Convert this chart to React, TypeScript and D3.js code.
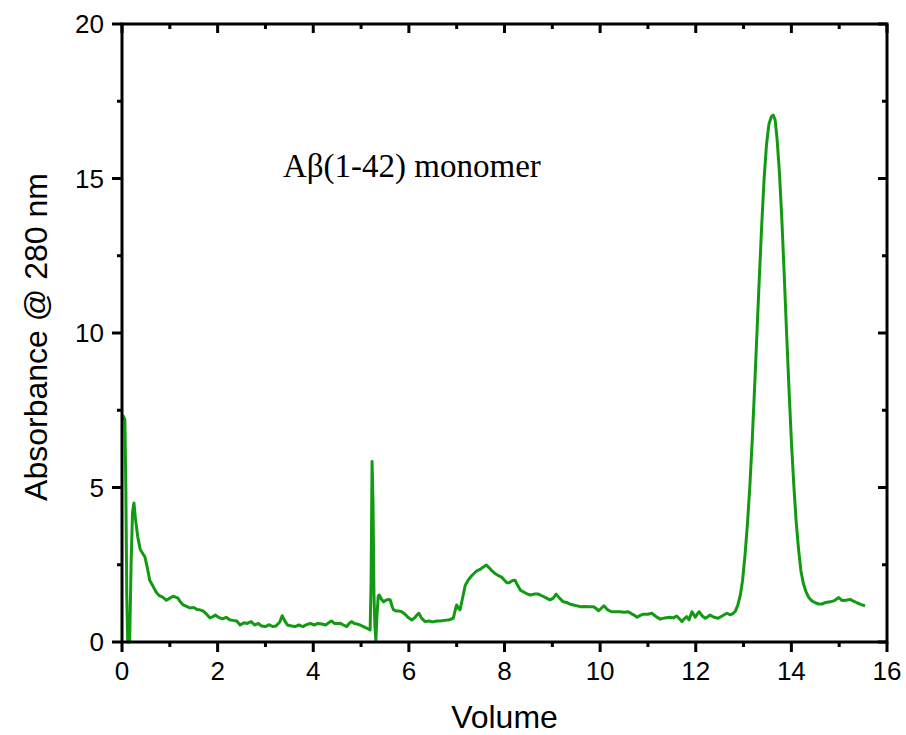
import React from "react";
import * as d3 from "d3";

const volume: number[] = [
  0.0, 0.03, 0.06, 0.08, 0.1, 0.12, 0.16, 0.19, 0.22, 0.25, 0.28, 0.33, 0.38, 0.44, 0.48, 0.53, 0.58, 0.65, 0.72, 0.78,
  0.85, 0.93, 1.0, 1.07, 1.12, 1.17, 1.22, 1.28, 1.35, 1.42, 1.5, 1.57, 1.63, 1.7, 1.77, 1.84, 1.9, 1.95, 2.02, 2.1,
  2.18, 2.25, 2.32, 2.4, 2.47, 2.55, 2.62, 2.7, 2.78, 2.85, 2.92, 3.0, 3.08, 3.15, 3.22, 3.3, 3.35, 3.4, 3.46, 3.55,
  3.62, 3.7, 3.78, 3.86, 3.94, 4.02, 4.1, 4.18, 4.26, 4.32, 4.38, 4.45, 4.52, 4.56, 4.63, 4.7, 4.75, 4.8, 4.86, 4.92,
  4.98, 5.05, 5.12, 5.19, 5.21, 5.23, 5.25, 5.27, 5.29, 5.31, 5.33, 5.36, 5.38, 5.42, 5.47, 5.52, 5.57, 5.61, 5.65, 5.68,
  5.74, 5.8, 5.85, 5.92, 5.98, 6.06, 6.12, 6.17, 6.21, 6.26, 6.34, 6.42, 6.5, 6.58, 6.65, 6.75, 6.85, 6.93, 6.98, 7.0,
  7.04, 7.07, 7.12, 7.18, 7.24, 7.3, 7.35, 7.42, 7.49, 7.55, 7.62, 7.68, 7.74, 7.8, 7.87, 7.94, 8.0, 8.05, 8.1, 8.16,
  8.22, 8.27, 8.33, 8.4, 8.47, 8.54, 8.62, 8.71, 8.8, 8.88, 8.95, 9.02, 9.08, 9.15, 9.23, 9.3, 9.38, 9.44, 9.52, 9.6,
  9.68, 9.76, 9.86, 9.92, 9.97, 10.03, 10.08, 10.15, 10.24, 10.33, 10.42, 10.5, 10.59, 10.65, 10.72, 10.77, 10.84, 10.91, 11.0, 11.08,
  11.17, 11.26, 11.35, 11.46, 11.53, 11.6, 11.66, 11.71, 11.76, 11.81, 11.86, 11.92, 11.96, 11.99, 12.03, 12.07, 12.13, 12.2, 12.25, 12.3,
  12.38, 12.47, 12.56, 12.65, 12.72, 12.78, 12.83, 12.88, 12.93, 12.98, 13.03, 13.08, 13.13, 13.18, 13.23, 13.28, 13.33, 13.38, 13.43, 13.48,
  13.53, 13.58, 13.62, 13.66, 13.7, 13.75, 13.8, 13.85, 13.9, 13.95, 14.0, 14.05, 14.1, 14.15, 14.2, 14.25, 14.3, 14.36, 14.43, 14.5,
  14.57, 14.64, 14.72, 14.81, 14.9, 14.99, 15.06, 15.14, 15.23, 15.3, 15.37, 15.45, 15.54,
];

const absorbance: number[] = [
  7.2, 7.3, 7.2, 5.0, 1.5, 0.0, 0.0, 2.5, 4.2, 4.5, 4.0, 3.4, 3.0, 2.85, 2.75, 2.4, 2.0, 1.8, 1.6, 1.5,
  1.45, 1.35, 1.42, 1.48, 1.45, 1.42, 1.3, 1.2, 1.15, 1.1, 1.12, 1.05, 1.04, 1.0, 0.9, 0.78, 0.82, 0.87, 0.8, 0.75,
  0.8, 0.72, 0.7, 0.68, 0.55, 0.62, 0.6, 0.66, 0.55, 0.6, 0.52, 0.5, 0.56, 0.5, 0.52, 0.65, 0.85, 0.7, 0.55, 0.52,
  0.5, 0.55, 0.5, 0.56, 0.6, 0.55, 0.6, 0.58, 0.55, 0.62, 0.68, 0.6, 0.6, 0.61, 0.55, 0.5, 0.6, 0.66, 0.6, 0.58,
  0.55, 0.5, 0.45, 0.39, 2.0, 5.84, 4.5, 1.5, 0.5, 0.06, 0.8, 1.5, 1.52, 1.4, 1.3, 1.35, 1.38, 1.36, 1.15, 1.04,
  1.0, 1.0, 0.98, 0.9, 0.8, 0.71, 0.78, 0.88, 0.93, 0.78, 0.66, 0.68, 0.65, 0.68, 0.68, 0.7, 0.72, 0.77, 1.1, 1.2,
  1.08, 1.04, 1.4, 1.84, 2.0, 2.12, 2.2, 2.3, 2.35, 2.42, 2.49, 2.4, 2.3, 2.22, 2.15, 2.1, 2.0, 1.92, 1.92, 1.98,
  2.0, 1.85, 1.68, 1.62, 1.56, 1.52, 1.55, 1.55, 1.48, 1.42, 1.36, 1.42, 1.55, 1.42, 1.3, 1.28, 1.22, 1.2, 1.17, 1.14,
  1.15, 1.14, 1.14, 1.08, 1.01, 1.1, 1.17, 1.05, 0.98, 0.98, 0.98, 0.96, 0.98, 0.92, 0.86, 0.8, 0.86, 0.9, 0.9, 0.93,
  0.82, 0.74, 0.78, 0.8, 0.78, 0.84, 0.75, 0.66, 0.75, 0.82, 0.72, 0.98, 0.88, 0.8, 0.9, 0.98, 0.85, 0.77, 0.82, 0.87,
  0.8, 0.77, 0.85, 0.93, 0.88, 0.92, 1.0, 1.2, 1.5, 2.0, 2.8, 3.8, 5.0, 6.5, 8.2, 10.0, 11.8, 13.5, 15.0, 16.1,
  16.75, 17.0, 17.05, 16.9, 16.3, 15.2, 13.7, 11.9, 10.0, 8.2, 6.5, 5.1, 3.9, 3.0, 2.3, 1.9, 1.65, 1.45, 1.33, 1.27,
  1.23, 1.23, 1.28, 1.3, 1.34, 1.44, 1.34, 1.35, 1.38, 1.32, 1.27, 1.22, 1.17,
];

const xMajorTicks: number[] = [0, 2, 4, 6, 8, 10, 12, 14, 16];
const xMinorTicks: number[] = [1, 3, 5, 7, 9, 11, 13, 15];
const yMajorTicks: number[] = [0, 5, 10, 15, 20];
const yMinorTicks: number[] = [2.5, 7.5, 12.5, 17.5];

const annotation = "Aβ(1-42) monomer";
const xTitle = "Volume";
const yTitle = "Absorbance @ 280 nm";

export default function App() {
  const W = 906;
  const H = 735;
  const left = 122;
  const right = 887;
  const top = 24;
  const bottom = 642;

  const x = d3.scaleLinear().domain([0, 16]).range([left, right]);
  const y = d3.scaleLinear().domain([0, 20]).range([bottom, top]);

  const pts = volume.map((v, i) => [v, absorbance[i]] as [number, number]);
  const line = d3
    .line<[number, number]>()
    .x((d) => x(d[0]))
    .y((d) => y(d[1]))
    .curve(d3.curveLinear);

  const sans = "Arial, 'Liberation Sans', sans-serif";
  const major = 9;
  const minor = 5;
  const axisW = 3;

  return (
    <div style={{ position: "absolute", left: 0, top: 0 }}>
      <svg width={W} height={H} viewBox={`0 0 ${W} ${H}`} style={{ display: "block", background: "#fff" }}>
        <path d={line(pts) || ""} fill="none" stroke="#139a13" strokeWidth={3} strokeLinejoin="round" />

        {/* frame */}
        <rect x={left} y={top} width={right - left} height={bottom - top} fill="none" stroke="#000" strokeWidth={axisW} />

        {/* bottom ticks outward, top ticks inward */}
        {xMajorTicks.map((t) => (
          <g key={"xM" + t}>
            <line x1={x(t)} x2={x(t)} y1={bottom} y2={bottom + major + 1} stroke="#000" strokeWidth={axisW} />
            <line x1={x(t)} x2={x(t)} y1={top} y2={top + major} stroke="#000" strokeWidth={axisW} />
            <text x={x(t)} y={bottom + 38} textAnchor="middle" fontFamily={sans} fontSize={26} fill="#000">
              {t}
            </text>
          </g>
        ))}
        {xMinorTicks.map((t) => (
          <g key={"xm" + t}>
            <line x1={x(t)} x2={x(t)} y1={bottom} y2={bottom + minor} stroke="#000" strokeWidth={axisW} />
            <line x1={x(t)} x2={x(t)} y1={top} y2={top + minor} stroke="#000" strokeWidth={axisW} />
          </g>
        ))}

        {/* left ticks outward, right ticks inward */}
        {yMajorTicks.map((t) => (
          <g key={"yM" + t}>
            <line x1={left - major - 1} x2={left} y1={y(t)} y2={y(t)} stroke="#000" strokeWidth={axisW} />
            <line x1={right - major} x2={right} y1={y(t)} y2={y(t)} stroke="#000" strokeWidth={axisW} />
            <text x={left - 18} y={y(t) + 9} textAnchor="end" fontFamily={sans} fontSize={26} fill="#000">
              {t}
            </text>
          </g>
        ))}
        {yMinorTicks.map((t) => (
          <g key={"ym" + t}>
            <line x1={left - minor} x2={left} y1={y(t)} y2={y(t)} stroke="#000" strokeWidth={axisW} />
            <line x1={right - minor} x2={right} y1={y(t)} y2={y(t)} stroke="#000" strokeWidth={axisW} />
          </g>
        ))}

        <text x={(left + right) / 2} y={728} textAnchor="middle" fontFamily={sans} fontSize={32} fill="#000">
          {xTitle}
        </text>
        <text
          transform={`translate(47, ${(top + bottom) / 2 + 4}) rotate(-90)`}
          textAnchor="middle"
          fontFamily={sans}
          fontSize={32}
          fill="#000"
        >
          {yTitle}
        </text>

        <text x={283} y={177} fontFamily="'Times New Roman', 'Liberation Serif', serif" fontSize={33} fill="#000">
          {annotation}
        </text>
      </svg>
    </div>
  );
}
